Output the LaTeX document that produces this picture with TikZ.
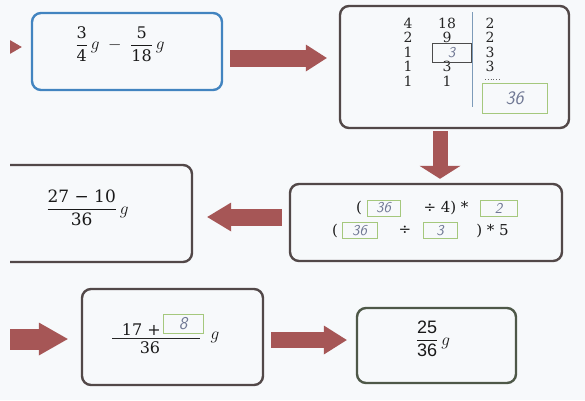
\documentclass[tikz,border=0pt]{standalone}
\usepackage{amsmath}
\usepackage{fontspec}
\setmainfont{DejaVu Serif}
\newfontfamily\arialfont{Liberation Sans}
\usetikzlibrary{arrows.meta}

\definecolor{paper}{RGB}{247,249,251}
\definecolor{arrowred}{RGB}{166,86,86}
\definecolor{boxgray}{RGB}{82,72,72}
\definecolor{boxblue}{RGB}{66,132,192}
\definecolor{boxolive}{RGB}{78,88,72}
\definecolor{handgreen}{RGB}{165,200,125}
\definecolor{handblue}{RGB}{112,120,148}
\definecolor{rulerblue}{RGB}{125,155,185}

\begin{document}
\begin{tikzpicture}[x=1pt,y=-1pt,
    box/.style={draw=boxgray, line width=2.4pt, rounded corners=9pt, inner sep=0pt},
    hand/.style={draw=handgreen, line width=0.9pt, inner sep=0pt, text=handblue,
                 font=\sffamily\slshape\fontsize{15}{15}\selectfont},
    num/.style={inner sep=0pt, font=\fontsize{14}{14}\selectfont, text=black!85},
    eq/.style={inner sep=0pt, font=\fontsize{15}{17}\selectfont, text=black!90},
    fat/.style n args={3}{draw=arrowred, line width=#1,
                 -{Triangle[width=#2,length=#3,line width=0pt]}}]

  % page
  \fill[paper] (0,0) rectangle (585,400);
  \useasboundingbox (0,0) rectangle (585,400);

  \begin{scope}
  \clip (10,-20) rectangle (600,420);

  % Boxes
  \node[box, draw=boxblue, minimum width=190pt, minimum height=77pt] (b1) at (127,51.5) {};
  \node[box, minimum width=229pt, minimum height=122pt] (b2) at (454.5,67) {};
  \node[box, minimum width=272pt, minimum height=77pt] (b3) at (426,222.5) {};
  \node[box, minimum width=202pt, minimum height=97pt] (b4) at (91,213.5) {};
  \node[box, minimum width=181pt, minimum height=96pt] (b5) at (172.5,337) {};
  \node[box, draw=boxolive, minimum width=159pt, minimum height=75pt] (b6) at (436.5,345.5) {};

  % Arrows
  \coordinate (in1) at (-30,47);
  \coordinate (in2) at (-30,339);
  \draw[fat={15pt}{28pt}{24pt}] (in1) -- ([shift={(-9,-4.5)}]b1.west);
  \draw[fat={17pt}{27pt}{21pt}] ([shift={(7,6.5)}]b1.east) -- ([shift={(-12,-9)}]b2.west);
  \draw[fat={15pt}{41pt}{13pt}] ([shift={(-14.5,2)}]b2.south) -- ([shift={(14,-4)}]b3.north);
  \draw[fat={17pt}{29pt}{24pt}] ([shift={(-7,-5.5)}]b3.west) -- ([shift={(14,3.5)}]b4.east);
  \draw[fat={21pt}{33pt}{29pt}] (in2) -- ([shift={(-13,2)}]b5.west);
  \draw[fat={16pt}{29pt}{23pt}] ([shift={(7,3)}]b5.east) -- ([shift={(-9,-5.5)}]b6.west);

  % first box
  \node[eq, font=\fontsize{16}{18}\selectfont] (t1) at (120,44) {$\dfrac{\text{3}}{\text{4}}\,g\;-\;\dfrac{\text{5}}{\text{18}}\,g$};

  % divisions
  \foreach \a/\b/\c [count=\i from 0] in {4/18/2, 2/9/2, 1/{}/3, 1/3/3, 1/1/{}} {
    \node[num] (n\i-1) at (408,{23+14.5*\i}) {\a};
    \node[num] (n\i-2) at (447,{23+14.5*\i}) {\b};
    \node[num] (n\i-3) at (490,{23+14.5*\i}) {\c};
  }
  \draw[rulerblue, line width=0.7pt] (472,12) -- (472,107);
  \node[hand, draw=black!70, minimum width=39pt, minimum height=19pt] (h3) at (451.5,52.5) {3};
  \draw[black!60, dotted, line width=0.8pt] (485,79) -- (500,79);
  \node[hand, minimum width=65pt, minimum height=30pt, font=\sffamily\slshape\fontsize{19}{19}\selectfont] (h36) at (514.5,98) {36};

  % lcm box
  \node[eq] (p1) at (359,208) {(};
  \node[hand, minimum width=33pt, minimum height=16pt] (g1) at (383.5,208) {36};
  \node[eq] (p2) at (446,208) {÷ 4) *};
  \node[hand, minimum width=37pt, minimum height=16pt] (g2) at (498.5,208) {2};
  \node[eq] (p3) at (335,230.5) {(};
  \node[hand, minimum width=35pt, minimum height=16pt] (g3) at (359.5,230.5) {36};
  \node[eq] (p4) at (405,230.5) {÷};
  \node[hand, minimum width=34pt, minimum height=16pt] (g4) at (440,230.5) {3};
  \node[eq] (p5) at (492.5,230.5) {) * 5};

  % results
  \node[eq, font=\fontsize{17}{19}\selectfont] (t4) at (87.5,208) {$\dfrac{\text{27 − 10}}{\text{36}}\,g$};
  \node[eq, anchor=east, font=\fontsize{16}{18}\selectfont] (t5) at (161,330) {17 +};
  \node[hand, minimum width=40pt, minimum height=19pt, font=\sffamily\slshape\fontsize{18}{18}\selectfont] (g5) at (183,324) {8};
  \draw[black!85, line width=0.8pt] (112,338) -- (200,338);
  \node[eq, font=\fontsize{16}{18}\selectfont] (t5d) at (150,348) {36};
  \node[eq, font=\fontsize{16}{18}\selectfont] (t5g) at (215,337) {$g$};
  \node[eq, font=\arialfont\fontsize{18}{20}\selectfont] (t6) at (433,339) {$\dfrac{\text{25}}{\text{36}}\,g$};
  \end{scope}
\end{tikzpicture}
\end{document}
